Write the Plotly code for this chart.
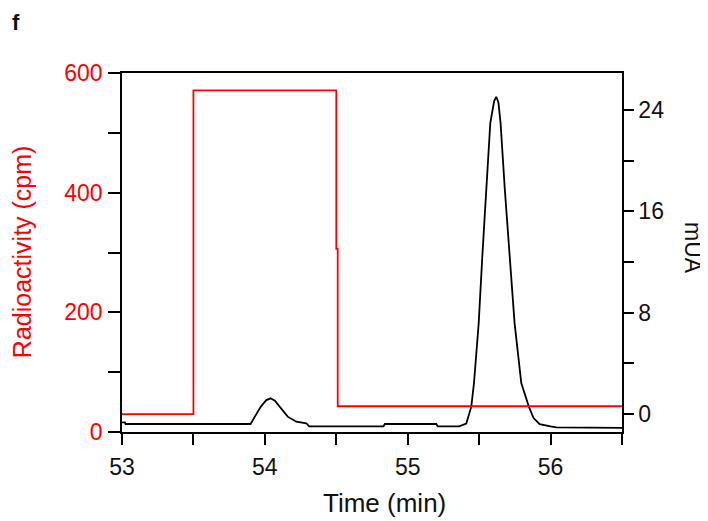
import plotly.graph_objects as go

# radioactivity trace (cpm), step-shaped fraction counts
time_cpm = [53.0, 53.5, 53.5, 54.5, 54.5, 54.51, 54.51, 56.5]
cpm = [30, 30, 571, 571, 306, 306, 43, 43]

# UV trace (mUA)
time_uv = [53.0, 53.02, 53.025, 53.90, 53.93, 53.97, 54.01, 54.04, 54.07, 54.105,
           54.16, 54.22, 54.29, 54.31, 54.83, 54.84, 55.20, 55.21, 55.36, 55.41,
           55.445, 55.464, 55.497, 55.522, 55.55, 55.578, 55.605, 55.62, 55.635, 55.65,
           55.68, 55.713, 55.748, 55.795, 55.848, 55.88, 55.923, 56.0, 56.04, 56.5]
mua = [-0.66, -0.66, -0.79, -0.79, -0.21, 0.55, 1.10, 1.24, 1.05, 0.58,
       -0.21, -0.61, -0.73, -0.98, -0.98, -0.79, -0.79, -0.98, -0.98, -0.75,
       0.58, 2.45, 7.18, 12.42, 17.68, 22.97, 24.7, 25.04, 24.6, 22.97,
       17.68, 12.42, 7.18, 2.45, 0.58, -0.3, -0.8, -0.98, -1.05, -1.1]

font = "Liberation Sans, Arial, sans-serif"
ink = "#111111"
red = "#ff0000"

fig = go.Figure()
fig.add_trace(go.Scatter(x=time_uv, y=mua, mode="lines", yaxis="y",
                         line=dict(color="black", width=1.8), showlegend=False))
fig.add_trace(go.Scatter(x=time_cpm, y=cpm, mode="lines", yaxis="y2",
                         line=dict(color=red, width=1.8), showlegend=False))

# page body has an 8px margin, so the figure is 8px smaller than the window
fig.update_layout(
    width=700, height=513,
    margin=dict(l=114, r=86, t=65, b=89),
    paper_bgcolor="white", plot_bgcolor="white",
    font=dict(family=font, size=23, color=ink),
    xaxis=dict(range=[53, 56.5], dtick=1, tick0=53, ticks="outside", ticklen=11,
               tickwidth=1.5, tickcolor="black", showline=True, linecolor="black",
               linewidth=1.5, mirror=True, showgrid=False, zeroline=False,
               tickfont=dict(size=23, color=ink), ticklabelstandoff=3,
               minor=dict(dtick=0.5, tick0=53, ticks="outside", ticklen=11,
                          tickwidth=1.5, tickcolor="black")),
    yaxis=dict(range=[-1.42, 26.92], side="right", dtick=8, tick0=0,
               ticks="outside", ticklen=10, tickwidth=1.5, tickcolor="black",
               showline=True, linecolor="black", linewidth=1.5, showgrid=False,
               zeroline=False, tickfont=dict(size=23, color=ink), ticklabelstandoff=0,
               minor=dict(dtick=4, tick0=0, ticks="outside", ticklen=10,
                          tickwidth=1.5, tickcolor="black")),
    yaxis2=dict(range=[0, 600], side="left", overlaying="y", dtick=200, tick0=0,
                ticks="outside", ticklen=12, tickwidth=1.5, tickcolor="black",
                showline=True, linecolor="black", linewidth=1.5, showgrid=False,
                zeroline=False, tickfont=dict(size=23, color=red), ticklabelstandoff=1,
                minor=dict(dtick=100, tick0=0, ticks="outside", ticklen=12,
                           tickwidth=1.5, tickcolor="black")),
    annotations=[
        dict(text="Radioactivity (cpm)", xref="paper", yref="paper", x=-0.2, y=0.501,
             xanchor="center", yanchor="middle", textangle=-90, showarrow=False,
             font=dict(size=25, color=red)),
        dict(text="mUA", xref="paper", yref="paper", x=1.142, y=0.5125,
             xanchor="center", yanchor="middle", textangle=90, showarrow=False,
             font=dict(size=23, color=ink)),
        dict(text="Time (min)", xref="paper", yref="paper", x=0.524, y=-0.198,
             xanchor="center", yanchor="middle", showarrow=False,
             font=dict(size=26, color=ink)),
        dict(text="<b>f</b>", xref="paper", yref="paper", x=-0.224, y=1.14,
             xanchor="left", yanchor="middle", showarrow=False,
             font=dict(size=22, color=ink)),
    ],
)

fig.write_html("out.html")
